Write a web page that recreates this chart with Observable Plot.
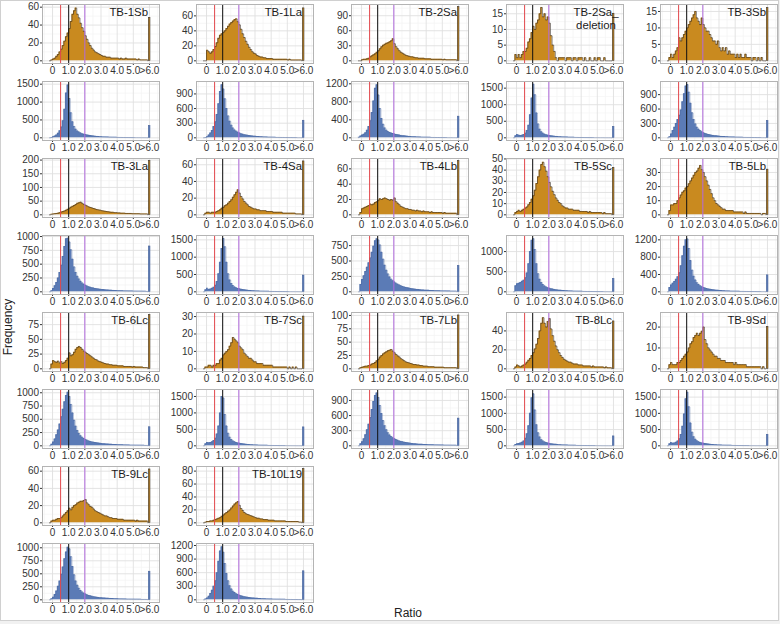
<!DOCTYPE html>
<html><head><meta charset="utf-8">
<script src="https://cdn.jsdelivr.net/npm/d3@7"></script>
<script src="https://cdn.jsdelivr.net/npm/@observablehq/plot@0.6"></script>
<style>
html,body{margin:0;padding:0;background:#f1f1f1;}
#fig{position:absolute;left:0;top:0;width:779px;height:621px;background:#fff;box-shadow:inset 0 0 0 1px #d0d0d0;overflow:hidden;font-family:"Liberation Sans",Arial,sans-serif;}
.panel{position:absolute;}
.axlab{position:absolute;font-size:12px;color:#222;white-space:nowrap;font-family:"Liberation Sans",Arial,sans-serif;}
</style></head><body><div id="fig"></div>
<script>
// ---- data ----
const samples = ["TB-1Sb","TB-1La","TB-2Sa","TB-2Sa_\ndeletion","TB-3Sb","TB-3La","TB-4Sa","TB-4Lb","TB-5Sc","TB-5Lb","TB-6Lc","TB-7Sc","TB-7Lb","TB-8Lc","TB-9Sd","TB-9Lc","TB-10L19"];
const binStart = -0.2, binWidth = 0.1;
const xTicks = [0,1,2,3,4,5,6];
const xTickLabels = ["0","1.0","2.0","3.0","4.0","5.0",">6.0"];
const refLines = [0.5, 1, 2];

// upper (orange) histograms, counts per 0.1 ratio bin from -0.2
const TB1Sb_upper = [0,1,2,3,5,7,10,13,17,22, 27,31,36,44,52,56,59,52,48,42, 37,33,28,24,20,17,14,12,10,9, 8,7,6,5,5,4,4,4,3,3, 3,3,3,2,3,2,2,3,2,2, 2,2,2,2,1,2,1,1,1,1, 1];
const TB1La_upper = [0,0,14,12,10,12,15,19,24,30, 34,36,38,40,43,46,49,51,53,55, 56,52,48,42,36,31,26,22,18,15, 12,10,9,7,6,5,5,4,4,3, 3,3,3,2,2,2,2,2,2,2, 2,2,1,2,1,1,1,1,1,1, 1];
const TB2Sa_upper = [0,0,2,3,3,4,5,8,10,12, 14,17,20,24,28,31,33,35,36,38, 40,44,34,28,24,20,17,15,13,11, 10,9,8,8,7,6,6,5,5,5, 5,4,4,4,4,3,3,3,3,3, 3,3,2,3,2,2,2,2,2,2, 2];
const TB2SaDel_upper = [0,2,1,2,1,2,3,3,4,6, 7,9,11,10,12,13,15,17,14,15, 13,14,12,8,5,3,1,0,1,1, 1,1,0,1,1,1,0,1,1,0, 1,1,1,0,1,0,0,1,0,0, 1,0,1,1,0,0,1,0,0,0, 0];
const TB3Sb_upper = [0,1,2,1,2,3,4,7,6,7, 8,9,10,11,12,13,14,15,13,12, 11,13,11,10,9,9,8,7,6,6, 5,6,4,3,4,3,4,2,3,2, 2,2,1,2,1,2,1,1,2,1, 1,1,0,1,1,0,1,0,1,0, 0];
const TB3La_upper = [0,2,3,4,5,6,8,10,12,14, 17,20,24,28,31,34,38,42,44,46, 42,38,35,32,29,27,25,23,21,19, 18,17,15,14,13,12,11,10,9,9, 8,8,7,7,6,6,6,5,5,5, 5,4,4,4,4,4,3,3,3,3, 3];
const TB4Sa_upper = [0,2,3,3,2,3,3,3,4,5, 6,8,9,11,12,14,16,18,21,24, 27,30,26,22,19,16,14,12,10,9, 8,7,7,6,6,5,5,5,5,4, 4,4,4,3,3,3,3,3,3,2, 2,2,2,2,2,2,2,1,1,1, 1];
const TB4Lb_upper = [0,3,8,9,10,11,12,14,13,14, 16,17,19,21,20,21,22,21,20,19, 20,19,22,17,15,13,11,10,9,8, 8,7,7,6,6,5,6,5,5,4, 5,4,4,4,3,4,3,3,3,3, 3,3,2,3,2,2,2,2,2,2, 2];
const TB5Sc_upper = [0,2,3,4,3,4,5,6,7,9, 11,14,17,22,28,34,40,45,47,43, 39,34,29,25,21,18,15,13,11,10, 8,7,6,6,5,5,5,4,4,4, 4,3,3,3,3,3,2,3,2,2, 2,2,2,2,2,1,2,1,1,1, 1];
const TB5Lb_upper = [0,3,7,7,8,8,10,12,14,16, 17,19,20,22,24,26,28,30,31,33, 35,32,30,27,24,21,18,15,12,10, 8,7,6,5,4,4,3,3,3,3, 3,2,2,2,2,2,2,1,2,1, 1,1,1,1,1,1,1,1,0,1, 1];
const TB6Lc_upper = [0,8,14,12,11,13,10,12,9,11, 14,18,27,22,24,28,33,36,38,36, 33,30,28,26,24,22,20,18,16,15, 13,12,11,10,9,8,8,7,7,6, 6,6,5,5,5,5,4,4,4,4, 4,3,4,3,3,3,3,3,2,2, 2];
const TB7Sc_upper = [0,1,1,2,2,1,2,2,3,3, 5,6,8,9,10,11,13,15,18,17, 16,15,13,12,11,9,8,7,6,6, 5,4,4,3,3,3,3,2,2,2, 2,2,2,1,1,1,1,1,1,1, 1,1,0,1,0,1,0,1,0,0, 0];
const TB7Lb_upper = [0,2,3,4,5,5,6,7,9,10, 12,15,18,22,25,28,30,32,34,35, 36,33,30,27,24,22,19,17,15,13, 12,11,10,9,8,8,7,7,6,6, 5,5,5,4,4,4,4,3,3,3, 3,3,3,2,2,2,2,2,2,2, 2];
const TB8Lc_upper = [0,2,4,3,2,3,4,5,7,9, 11,14,17,21,26,32,40,48,54,48, 44,50,53,42,35,29,24,20,17,14, 12,10,9,8,7,7,6,5,5,5, 4,4,4,3,3,3,3,3,2,3, 2,2,2,2,2,2,1,2,1,1, 1];
const TB9Sd_upper = [0,2,3,2,2,2,3,3,4,5, 6,7,8,10,12,13,15,16,17,16, 17,18,20,14,12,10,9,8,7,6, 6,5,5,4,4,4,3,3,3,3, 3,2,3,2,2,2,2,2,2,1, 1,1,1,1,1,1,1,1,0,1, 0];
const TB9Lc_upper = [0,2,3,3,4,5,5,6,8,10, 12,14,17,15,18,20,21,23,24,25, 25,26,27,23,21,19,18,16,14,13, 12,11,10,9,8,8,7,6,6,5, 5,5,4,4,4,4,3,3,3,3, 3,3,3,2,3,2,2,2,2,2, 2];
const TB10L19_upper = [0,1,2,2,3,3,4,5,6,7, 8,10,12,14,16,18,20,23,26,29, 31,33,27,22,19,16,14,13,12,11, 10,9,8,7,7,6,6,5,5,5, 4,4,4,4,3,3,3,3,3,3, 3,2,2,2,2,2,2,2,2,1, 1];

// lower (blue) histograms, counts per 0.1 ratio bin from -0.2
const TB1Sb_lower = [0,10,30,50,80,130,200,300,480,800, 1250,1480,1100,700,450,320,240,190,160,135, 115,100,90,80,70,62,55,50,45,40, 36,32,29,26,24,22,20,18,16,15, 14,13,12,11,10,9,9,8,8,7, 7,6,6,5,5,5,4,4,4,3, 3];
const TB1La_lower = [0,5,20,60,100,150,230,330,480,700, 950,1090,1000,800,600,450,340,260,200,160, 135,115,100,85,75,65,58,52,46,42, 38,34,30,27,25,22,20,18,17,15, 14,13,12,11,10,9,9,8,7,7, 6,6,5,5,5,4,4,4,3,3, 3];
const TB2Sa_lower = [10,40,60,80,110,170,250,380,560,820, 1100,1180,950,650,430,300,220,170,140,120, 105,95,85,75,68,60,54,48,44,40, 36,32,29,26,24,22,20,18,16,15, 14,13,12,11,10,9,8,8,7,7, 6,6,5,5,5,4,4,4,3,3, 3];
const TB2SaDel_lower = [0,60,100,80,70,80,100,140,220,380, 700,1200,1620,1300,750,420,260,180,140,110, 95,80,70,62,55,48,43,38,34,31, 28,25,23,21,19,17,16,14,13,12, 11,10,10,9,8,8,7,7,6,6, 5,5,5,4,4,4,3,3,3,3, 2];
const TB3Sb_lower = [0,20,80,150,220,300,380,470,580,750, 920,1080,1110,950,720,520,380,290,220,180, 150,125,108,92,80,70,62,55,50,45, 41,37,33,30,27,25,23,21,19,17, 16,15,14,13,12,11,10,9,9,8, 8,7,7,6,6,5,5,5,4,4, 4];
const TB3La_lower = [0,20,60,110,170,250,350,480,640,820, 960,970,900,760,590,450,350,280,230,190, 160,135,118,104,92,82,74,67,61,56, 51,47,43,40,37,34,32,30,28,26, 24,23,21,20,19,18,17,16,15,14, 14,13,12,12,11,11,10,10,9,9, 8];
const TB4Sa_lower = [0,60,100,70,80,100,130,190,300,520, 850,1250,1540,1300,850,520,340,240,180,140, 115,98,85,74,65,57,50,45,40,36, 32,29,26,24,22,20,18,17,15,14, 13,12,11,10,10,9,8,8,7,7, 6,6,6,5,5,5,4,4,4,3, 3];
const TB4Lb_lower = [0,120,200,260,330,400,470,550,640,740, 830,860,840,760,640,530,430,350,290,240, 205,180,158,140,124,110,98,88,80,72, 66,60,55,50,46,42,39,36,33,31, 29,27,25,24,22,21,20,19,18,17, 16,15,14,14,13,12,12,11,11,10, 10];
const TB5Sc_lower = [0,150,200,210,230,260,290,350,470,700, 1000,1280,1320,1050,700,450,310,230,180,145, 120,100,88,77,68,60,53,47,42,38, 34,31,28,25,23,21,19,17,16,15, 14,13,12,11,10,9,9,8,8,7, 7,6,6,5,5,5,4,4,4,3, 3];
const TB5Lb_lower = [0,100,160,200,240,290,350,440,600,830, 1050,1200,1220,1000,720,500,360,270,210,170, 140,118,100,87,76,67,60,53,47,42, 38,34,31,28,25,23,21,19,18,16, 15,14,13,12,11,10,10,9,8,8, 7,7,6,6,6,5,5,5,4,4, 4];
const TB6Lc_lower = [0,30,70,130,210,300,410,550,690,830, 950,1010,930,780,620,480,370,290,230,190, 160,138,120,105,93,83,74,67,61,56, 51,47,43,40,37,34,32,30,28,26, 24,23,21,20,19,18,17,16,15,14, 13,13,12,11,11,10,10,9,9,8, 8];
const TB7Sc_lower = [0,60,100,90,100,120,160,230,360,600, 1000,1500,1450,950,600,380,260,190,150,120, 100,88,77,68,60,53,47,42,38,34, 31,28,25,23,21,19,17,16,15,14, 13,12,11,10,9,9,8,7,7,6, 6,5,5,5,4,4,4,3,3,3, 3];
const TB7Lb_lower = [0,40,80,140,220,320,430,560,720,880, 1000,1050,960,800,640,500,400,320,260,215, 185,160,140,124,110,98,88,80,72,66, 60,55,50,46,42,39,36,33,31,29, 27,25,24,22,21,20,19,18,17,16, 15,14,14,13,12,12,11,11,10,10, 9];
const TB8Lc_lower = [0,40,60,70,90,110,150,230,370,620, 1000,1480,1600,1100,650,400,270,190,150,120, 100,86,75,66,58,51,45,40,36,32, 29,26,24,22,20,18,17,15,14,13, 12,11,10,10,9,8,8,7,7,6, 6,5,5,5,4,4,4,3,3,3, 3];
const TB9Sd_lower = [0,60,100,80,90,110,150,220,350,600, 980,1450,1650,1200,700,420,280,200,155,125, 105,90,78,68,60,53,47,42,37,33, 30,27,25,23,21,19,17,16,15,14, 13,12,11,10,9,9,8,7,7,6, 6,5,5,5,4,4,4,3,3,3, 3];
const TB9Lc_lower = [0,20,50,100,170,260,360,490,630,790, 920,1010,980,830,640,480,360,280,220,180, 150,128,110,96,85,76,68,61,55,50, 46,42,39,36,33,31,29,27,25,23, 22,20,19,18,17,16,15,14,13,13, 12,11,11,10,10,9,9,8,8,8, 7];
const TB10L19_lower = [0,20,40,80,140,210,300,420,600,850, 1080,1170,1050,800,580,420,310,240,190,160, 135,115,100,88,78,70,62,56,50,46, 42,38,35,32,29,27,25,23,21,20, 18,17,16,15,14,13,12,12,11,10, 10,9,9,8,8,7,7,7,6,6, 6];

// counts in the ">6.0" bin
const over6_upper = [48,70,107,15,16, 196,64,70,42,32, 91,30,100,50,20, 62,83];
const over6_lower = [330,350,470,330,350, 820,470,420,320,380, 350,560,540,290,340, 540,630];
// highest bar of each histogram (sets the y range) and y tick step
const yMax_upper = [60,71.6,107,17.1,16.3, 196,64.3,70,48,38, 91,30.8,100.5,56.6,25.7, 62.3,83];
const yMax_lower = [1500,1100,1192,1620,1118, 970,1548,870,1333,1238, 1011,1630,1064,1652,1652, 1031,1185];
const yStep_upper = [20,20,30,5,5, 50,20,20,10,10, 25,10,25,20,10, 20,20];
const yStep_lower = [500,300,400,500,300, 250,500,250,500,400, 250,500,300,500,500, 250,300];

const upperHists = [TB1Sb_upper,TB1La_upper,TB2Sa_upper,TB2SaDel_upper,TB3Sb_upper,TB3La_upper,TB4Sa_upper,TB4Lb_upper,TB5Sc_upper,TB5Lb_upper,TB6Lc_upper,TB7Sc_upper,TB7Lb_upper,TB8Lc_upper,TB9Sd_upper,TB9Lc_upper,TB10L19_upper];
const lowerHists = [TB1Sb_lower,TB1La_lower,TB2Sa_lower,TB2SaDel_lower,TB3Sb_lower,TB3La_lower,TB4Sa_lower,TB4Lb_lower,TB5Sc_lower,TB5Lb_lower,TB6Lc_lower,TB7Sc_lower,TB7Lb_lower,TB8Lc_lower,TB9Sd_lower,TB9Lc_lower,TB10L19_lower];

// ---- layout ----
const colLeft = [41.7, 196.3, 350.9, 505.5, 660];
const rowTop0 = 4, rowStep = 77, plotW = 117, plotH = 59;
const ML = 38, MR = 2, MT = 2, MB = 16;
const FONT = '"Liberation Sans", Arial, sans-serif';
const fig = document.getElementById("fig");

function panel(vals, over6, ymax, step, fill, outline, outlineW, label, col, row) {
  const n = vals.length;
  const pts = vals.map((v, i) => ({x: +(binStart + i * binWidth).toFixed(3), v}));
  const xEnd = +(binStart + n * binWidth).toFixed(3);
  const prof = [{x: pts[0].x, v: 0}, ...pts, {x: xEnd, v: vals[n - 1]}, {x: xEnd, v: 0}];
  const top = 1.05 * ymax;
  const yt = d3.range(0, top + 1e-9, step);
  const yMinor = d3.range(step / 2, top, step);
  const xMinor = [-0.5, 0.5, 1.5, 2.5, 3.5, 4.5, 5.5, 6.5];
  const multi = !!label && label.includes("\n");
  const chart = Plot.plot({
    width: ML + plotW + MR, height: MT + plotH + MB,
    marginLeft: ML, marginRight: MR, marginTop: MT, marginBottom: MB,
    style: {fontSize: "10px", fontFamily: FONT, color: "#333", background: "transparent", overflow: "visible"},
    x: {domain: [-0.62, 6.62], ticks: xTicks, tickFormat: d => xTickLabels[xTicks.indexOf(d)], tickSize: 2, tickPadding: 1.5, label: null},
    y: {domain: [-0.05 * ymax, top], ticks: yt, tickFormat: d => String(d), tickSize: 2, tickPadding: 1.5, label: null},
    marks: [
      Plot.ruleX(xMinor, {stroke: "#f3f3f3", strokeWidth: 0.7}),
      Plot.ruleY(yMinor, {stroke: "#f3f3f3", strokeWidth: 0.7}),
      Plot.ruleX(xTicks, {stroke: "#e0e0e0", strokeWidth: 0.9}),
      Plot.ruleY(yt, {stroke: "#e0e0e0", strokeWidth: 0.9}),
      Plot.area(prof, {x1: "x", y1: d => 0, y2: "v", curve: "step-after", fill}),
      Plot.line(prof, {x: "x", y: "v", curve: "step-after", stroke: outline, strokeWidth: outlineW}),
      Plot.rect([over6], {x1: d => 5.96, x2: d => 6.06, y1: d => 0, y2: d => d, fill, stroke: outline, strokeWidth: 0.6}),
      Plot.ruleX([refLines[0]], {stroke: "#e2474c", strokeWidth: 1}),
      Plot.ruleX([refLines[1]], {stroke: "#111111", strokeWidth: 1}),
      Plot.ruleX([refLines[2]], {stroke: "#b26ade", strokeWidth: 1}),
      Plot.frame({stroke: "#b4b4b4", strokeWidth: 1}),
      ...(label ? [Plot.text([label], {
        frameAnchor: "top-right", text: d => d,
        textAnchor: multi ? "middle" : "end",
        dx: multi ? -27.5 : -11.5, dy: 3, lineAnchor: "top", lineHeight: 1.08,
        fontSize: 11.4, fill: "#1a1a1a"
      })] : [])
    ]
  });
  chart.style.overflow = "visible";
  const wrap = document.createElement("div");
  wrap.className = "panel";
  wrap.style.left = (colLeft[col] - ML) + "px";
  wrap.style.top = (rowTop0 + row * rowStep - MT) + "px";
  wrap.appendChild(chart);
  fig.appendChild(wrap);
}

const ORANGE = "#c98a1f", ORANGE_LINE = "#3b3026";
const BLUE = "#5b7bb6", BLUE_LINE = "#4a659c";

samples.forEach((s, i) => {
  const col = i % 5, blockRow = Math.floor(i / 5);
  panel(upperHists[i], over6_upper[i], yMax_upper[i], yStep_upper[i], ORANGE, ORANGE_LINE, 0.6, s, col, blockRow * 2);
  panel(lowerHists[i], over6_lower[i], yMax_lower[i], yStep_lower[i], BLUE, BLUE_LINE, 0.4, null, col, blockRow * 2 + 1);
});

const yl = document.createElement("div");
yl.className = "axlab";
yl.textContent = "Frequency";
yl.style.left = "8px"; yl.style.top = "327px";
yl.style.transform = "translate(-50%,-50%) rotate(-90deg)";
fig.appendChild(yl);
const xl = document.createElement("div");
xl.className = "axlab";
xl.textContent = "Ratio";
xl.style.left = "408px"; xl.style.top = "613px";
xl.style.transform = "translate(-50%,-50%)";
fig.appendChild(xl);
</script></body></html>
